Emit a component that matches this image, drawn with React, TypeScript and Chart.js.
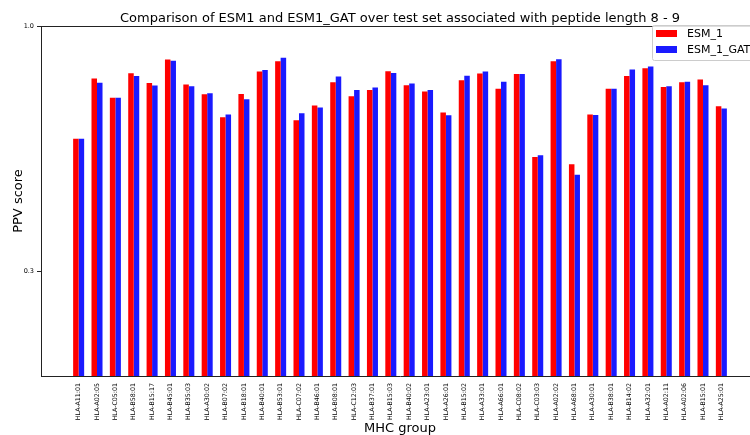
import React, { useEffect, useRef } from "react";
import { Chart, registerables } from "chart.js";

Chart.register(...registerables);

const categories = [
  "HLA-A11:01", "HLA-A02:05", "HLA-C05:01", "HLA-B58:01", "HLA-B15:17", "HLA-B45:01",
  "HLA-B35:03", "HLA-A30:02", "HLA-B07:02", "HLA-B18:01", "HLA-B40:01", "HLA-B53:01",
  "HLA-C07:02", "HLA-B46:01", "HLA-B08:01", "HLA-C12:03", "HLA-B37:01", "HLA-B15:03",
  "HLA-B40:02", "HLA-A23:01", "HLA-A26:01", "HLA-B15:02", "HLA-A33:01", "HLA-A66:01",
  "HLA-C08:02", "HLA-C03:03", "HLA-A02:02", "HLA-A68:01", "HLA-A30:01", "HLA-B38:01",
  "HLA-B14:02", "HLA-A32:01", "HLA-A02:11", "HLA-A02:06", "HLA-B15:01", "HLA-A25:01",
];

const esm1 = [
  0.678, 0.850, 0.795, 0.865, 0.837, 0.904, 0.833, 0.805, 0.739, 0.806, 0.870, 0.899,
  0.731, 0.773, 0.839, 0.799, 0.817, 0.871, 0.831, 0.813, 0.753, 0.845, 0.864, 0.821,
  0.863, 0.626, 0.899, 0.605, 0.747, 0.821, 0.857, 0.879, 0.826, 0.839, 0.847, 0.771,
];

const esm1Gat = [
  0.678, 0.838, 0.795, 0.857, 0.830, 0.901, 0.828, 0.808, 0.747, 0.791, 0.874, 0.909,
  0.751, 0.767, 0.856, 0.817, 0.824, 0.866, 0.836, 0.817, 0.745, 0.858, 0.870, 0.841,
  0.863, 0.631, 0.905, 0.575, 0.746, 0.821, 0.876, 0.884, 0.828, 0.841, 0.831, 0.764,
];

const yTicks = [0.3, 1.0];

const seriesNames = ["ESM_1", "ESM_1_GAT"];
const seriesColors = ["#ff0000", "#1a1aff"];

const titleText = "Comparison of ESM1 and ESM1_GAT over test set associated with peptide length 8 - 9";
const xTitle = "MHC group";
const yTitle = "PPV score";

const FONT = "'DejaVu Sans', sans-serif";

export default function App() {
  const ref = useRef<HTMLCanvasElement>(null);

  useEffect(() => {
    const canvas = ref.current!;
    const overlay = {
      id: "overlay",
      afterDraw(chart: any) {
        const ctx = chart.ctx as CanvasRenderingContext2D;
        const a = chart.chartArea;
        ctx.save();
        // top spine
        ctx.strokeStyle = "#222";
        ctx.lineWidth = 1;
        ctx.beginPath();
        ctx.moveTo(a.left, a.top + 0.5);
        ctx.lineTo(a.right, a.top + 0.5);
        ctx.stroke();

        // title
        ctx.fillStyle = "#000";
        ctx.font = `13px ${FONT}`;
        ctx.textAlign = "center";
        ctx.textBaseline = "alphabetic";
        const cx = (a.left + a.right) / 2;
        ctx.fillText(titleText, cx, 22);

        // x title
        ctx.fillText(xTitle, cx, 432);

        // y title
        ctx.save();
        ctx.translate(22, (a.top + a.bottom) / 2);
        ctx.rotate(-Math.PI / 2);
        ctx.fillText(yTitle, 0, 0);
        ctx.restore();

        // legend
        const lx = 652, ly = 25, lw = 130, lh = 35;
        ctx.fillStyle = "rgba(255,255,255,0.85)";
        ctx.strokeStyle = "#cccccc";
        ctx.lineWidth = 1;
        ctx.beginPath();
        (ctx as any).roundRect(lx + 0.5, ly + 0.5, lw, lh, 2);
        ctx.fill();
        ctx.stroke();
        ctx.font = `11px ${FONT}`;
        ctx.textAlign = "left";
        ctx.textBaseline = "middle";
        seriesNames.forEach((name, i) => {
          const yy = 30 + i * 16;
          ctx.fillStyle = seriesColors[i];
          ctx.fillRect(656, yy, 21, 7);
          ctx.fillStyle = "#000";
          ctx.fillText(name, 687, yy + 4);
        });
        ctx.restore();
      },
    };

    const chart = new Chart(canvas, {
      type: "bar",
      data: {
        datasets: [
          {
            label: seriesNames[0],
            data: esm1.map((v, i) => ({ x: i, y: v })),
            backgroundColor: seriesColors[0],
            borderWidth: 0,
          },
          {
            label: seriesNames[1],
            data: esm1Gat.map((v, i) => ({ x: i, y: v })),
            backgroundColor: seriesColors[1],
            borderWidth: 0,
          },
        ],
      },
      options: {
        responsive: false,
        animation: false,
        layout: { padding: { left: 0, right: 11, top: 26, bottom: 0 } },
        plugins: {
          legend: { display: false },
          title: { display: false },
          tooltip: { enabled: false },
        },
        datasets: { bar: { categoryPercentage: 0.6, barPercentage: 1.0 } } as any,
        scales: {
          x: {
            type: "linear",
            offset: false,
            min: -2.05,
            max: 37.05,
            grid: { display: false, drawTicks: false },
            border: { display: true, color: "#222", width: 1 },
            afterBuildTicks: (s: any) => {
              s.ticks = categories.map((_, i) => ({ value: i }));
            },
            afterFit: (s: any) => {
              s.height = 59;
            },
            ticks: {
              autoSkip: false,
              maxRotation: 90,
              minRotation: 90,
              padding: 7,
              color: "#000",
              font: { family: FONT, size: 6.3 },
              callback: (v: any) => categories[Math.round(Number(v))] ?? "",
            },
          } as any,
          y: {
            min: 0,
            max: 1.0,
            grid: { display: true, drawOnChartArea: false, drawTicks: true, tickLength: 4, color: "#222" },
            border: { display: true, color: "#222", width: 1 },
            afterBuildTicks: (s: any) => {
              s.ticks = yTicks.map((v) => ({ value: v }));
            },
            afterFit: (s: any) => {
              s.width = 41;
            },
            ticks: {
              padding: 3,
              color: "#000",
              font: { family: FONT, size: 6.5 },
              callback: (v: any) => Number(v).toFixed(1),
            },
          } as any,
        },
      },
      plugins: [overlay],
    });
    return () => chart.destroy();
  }, []);

  return (
    <div
      style={{
        position: "fixed",
        left: 0,
        top: 0,
        width: 750,
        height: 435,
        overflow: "hidden",
        background: "#fff",
      }}
    >
      <canvas ref={ref} width={770} height={435} style={{ display: "block" }} />
    </div>
  );
}
